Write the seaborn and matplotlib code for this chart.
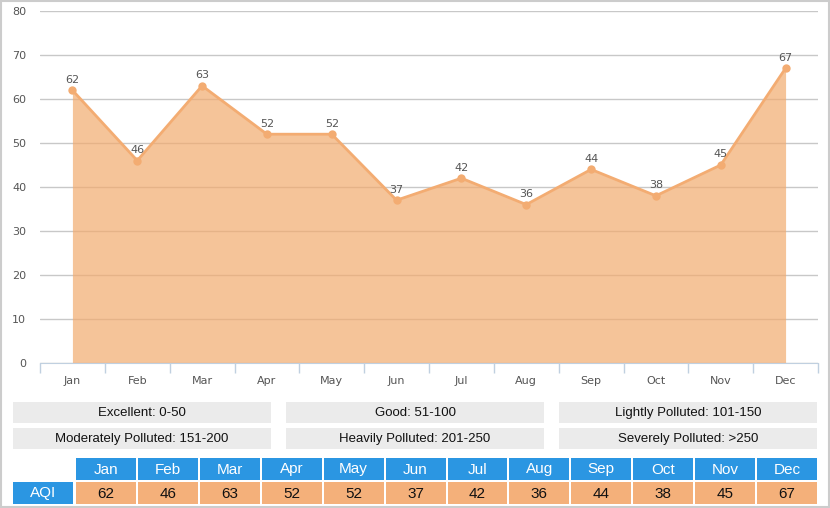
import numpy as np
import pandas as pd
import seaborn as sns
import matplotlib
matplotlib.use("Agg")
import matplotlib.pyplot as plt
from matplotlib.patches import Rectangle

months = ['Jan', 'Feb', 'Mar', 'Apr', 'May', 'Jun', 'Jul', 'Aug', 'Sep', 'Oct', 'Nov', 'Dec']
aqi = [62, 46, 63, 52, 52, 37, 42, 36, 44, 38, 45, 67]
levels = ['Excellent: 0-50', 'Good: 51-100', 'Lightly Polluted: 101-150',
          'Moderately Polluted: 151-200', 'Heavily Polluted: 201-250', 'Severely Polluted: >250']
yticks = [0, 10, 20, 30, 40, 50, 60, 70, 80]

W, H = 830, 508
line_c = '#F3AC72'
fill_c = '#F2AB6E'
blue = '#2B96E2'
cell_c = '#F4B07A'
grey_box = '#EBEBEB'

sns.set_style('white')
plt.rcParams['font.family'] = ['DejaVu Sans']

fig = plt.figure(figsize=(W / 100, H / 100), dpi=100)
fig.patch.set_facecolor('white')

def fx(px):
    return px / W

def fy(py):
    return 1 - py / H

# main chart
ax = fig.add_axes([fx(40), fy(363), fx(818) - fx(40), fy(11) - fy(363)])
df = pd.DataFrame({'x': np.arange(len(months)), 'AQI': aqi})
ax.fill_between(df['x'], df['AQI'], 0, color=fill_c, alpha=0.7, linewidth=0, zorder=2)
sns.lineplot(data=df, x='x', y='AQI', ax=ax, color=line_c, linewidth=2,
             marker='o', markersize=6, markeredgewidth=0, zorder=3)
for xi, v in zip(df['x'], df['AQI']):
    ax.annotate(str(v), (xi, v), xytext=(0, 4), textcoords='offset points',
                ha='center', va='bottom', fontsize=8, color='#555555', zorder=4)

ax.set_xlim(-0.5, len(months) - 0.5)
ax.set_ylim(0, 80)
ax.set_yticks(yticks)
ax.set_yticklabels([str(t) for t in yticks], fontsize=8, color='#555555')
ax.set_xticks(df['x'])
ax.set_xticklabels(months, fontsize=8, color='#555555')
ax.set_xticks(np.arange(-0.5, len(months)), minor=True)
ax.tick_params(axis='x', which='major', length=0, pad=9, bottom=True)
ax.tick_params(axis='x', which='minor', length=7, color='#C0D0E0', width=1, bottom=True)
ax.tick_params(axis='y', length=0, pad=10)
ax.yaxis.grid(True, color='#C8C8C8', linewidth=1)
ax.set_axisbelow(True)
for s in ['top', 'right', 'left']:
    ax.spines[s].set_visible(False)
ax.spines['bottom'].set_color('#C0D0E0')
ax.set_xlabel('')
ax.set_ylabel('')

# bottom panel: legend boxes and table in pixel coords
bx = fig.add_axes([0, 0, 1, 1], zorder=5)
bx.set_xlim(0, W)
bx.set_ylim(H, 0)
bx.axis('off')
bx.patch.set_alpha(0)

# outer border
bx.add_patch(Rectangle((0.5, 0.5), W - 1.5, H - 1.5, fill=False, edgecolor='#CCCCCC', linewidth=1.5))

box_x = [13, 286, 559]
box_w = 258
box_y = [402, 428]
box_h = 21
for i, lab in enumerate(levels):
    r, c = divmod(i, 3)
    bx.add_patch(Rectangle((box_x[c], box_y[r]), box_w, box_h, facecolor=grey_box, edgecolor='none'))
    bx.text(box_x[c] + box_w / 2, box_y[r] + box_h / 2 + 0.5, lab, ha='center', va='center',
            fontsize=9.5, color='#111111', family='Liberation Sans')

# table
t_left = 76
t_right = 819
gap = 2
cw = (t_right - t_left) / len(months)
hy, hh = 458, 22
dy, dh = 482, 22
bx.add_patch(Rectangle((13, dy), 60, dh, facecolor=blue, edgecolor='none'))
bx.text(13 + 30, dy + dh / 2 + 0.5, 'AQI', ha='center', va='center', fontsize=11,
        color='white', family='Liberation Sans')
for i, (m, v) in enumerate(zip(months, aqi)):
    x0 = t_left + i * cw
    bx.add_patch(Rectangle((x0, hy), cw - gap, hh, facecolor=blue, edgecolor='none'))
    bx.text(x0 + (cw - gap) / 2, hy + hh / 2 + 0.5, m, ha='center', va='center', fontsize=11,
            color='white', family='Liberation Sans')
    bx.add_patch(Rectangle((x0, dy), cw - gap, dh, facecolor=cell_c, edgecolor='none'))
    bx.text(x0 + (cw - gap) / 2, dy + dh / 2 + 0.5, str(v), ha='center', va='center', fontsize=11,
            color='#111111', family='Liberation Sans')

fig.savefig('out.png', dpi=100)
